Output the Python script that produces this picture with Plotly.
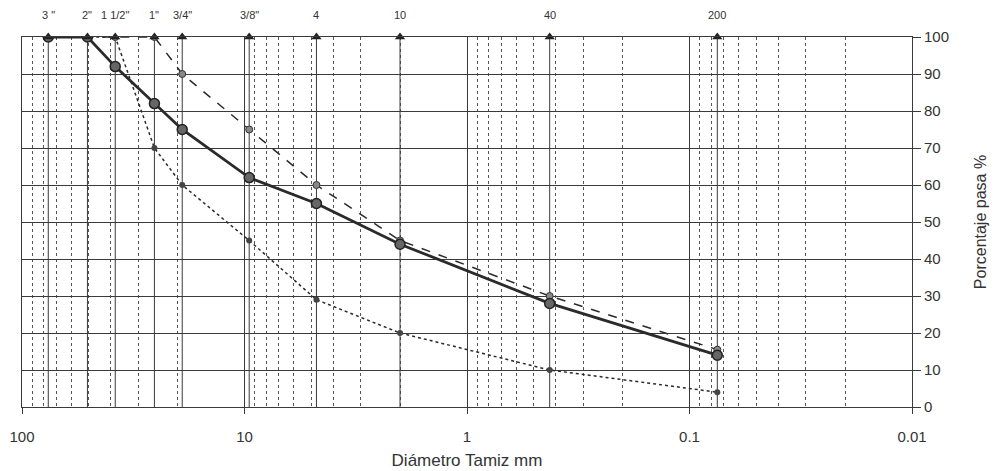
import math
import plotly.graph_objects as go

# Sieve data
sieve_labels = ['3 "', '2"', '1 1/2"', '1"', '3/4"', '3/8"', '4', '10', '40', '200']
sieve_mm = [76.2, 50.8, 38.1, 25.4, 19.05, 9.525, 4.75, 2.0, 0.425, 0.075]

# Percent passing
pasa_muestra = [100, 100, 92, 82, 75, 62, 55, 44, 28, 14]      # solid
pasa_superior = [100, 100, 100, 100, 90, 75, 60, 45, 30, 15.5]  # dashed
pasa_inferior = [100, 100, 100, 70, 60, 45, 29, 20, 10, 4]      # dotted

x_ticks = [100, 10, 1, 0.1, 0.01]
x_tick_text = ["100", "10", "1", "0.1", "0.01"]
y_ticks = list(range(0, 101, 10))

INK = "#2a2a2a"
GRID = "#3a3a3a"
FONT = "Liberation Sans, Arial, sans-serif"

fig = go.Figure()

# sieve vertical lines
for s in sieve_mm:
    fig.add_trace(go.Scatter(x=[s, s], y=[0, 100], mode="lines",
                             line=dict(color=GRID, width=1), hoverinfo="skip",
                             showlegend=False))

# lower limit (dotted)
fig.add_trace(go.Scatter(x=sieve_mm, y=pasa_inferior, mode="lines+markers",
                         line=dict(color=INK, width=1.5, dash="dot"),
                         marker=dict(symbol="circle", size=6, color="#444"),
                         showlegend=False))
# upper limit (dashed)
fig.add_trace(go.Scatter(x=sieve_mm, y=pasa_superior, mode="lines+markers",
                         line=dict(color=INK, width=1.5, dash="dash"),
                         marker=dict(symbol="circle", size=7, color="#888",
                                     line=dict(color="#333", width=1)),
                         showlegend=False))
# sample (solid)
fig.add_trace(go.Scatter(x=sieve_mm, y=pasa_muestra, mode="lines+markers",
                         line=dict(color=INK, width=2.8),
                         marker=dict(symbol="circle", size=10, color="#666",
                                     line=dict(color="#222", width=1.5)),
                         showlegend=False))

# sieve triangles at top
fig.add_trace(go.Scatter(x=sieve_mm, y=[100] * len(sieve_mm), mode="markers",
                         marker=dict(symbol="triangle-up", size=9, color="#222"),
                         cliponaxis=False, showlegend=False))

# sieve labels above plot
for s, lab in zip(sieve_mm, sieve_labels):
    fig.add_annotation(x=math.log10(s), y=1, xref="x", yref="paper",
                       text=lab, showarrow=False, yanchor="bottom",
                       yshift=14, font=dict(family=FONT, size=11, color="#333"))

fig.update_xaxes(type="log", range=[2, -2], automargin=False,
                 tickvals=x_ticks, ticktext=x_tick_text,
                 tickfont=dict(family=FONT, size=15, color="#333"),
                 ticks="outside", ticklen=6, tickcolor=GRID,
                 ticklabelstandoff=10,
                 showgrid=True, gridcolor=GRID, gridwidth=1,
                 minor=dict(dtick="D1", showgrid=True, gridcolor="#555",
                            griddash="dot", gridwidth=1, ticks=""),
                 showline=True, linecolor=GRID, mirror=True, zeroline=False,
                 title=dict(text="Diámetro Tamiz mm",
                            font=dict(family=FONT, size=17, color="#333"),
                            standoff=10))
fig.update_yaxes(range=[0, 100], side="right", tickvals=y_ticks, automargin=False,
                 tickfont=dict(family=FONT, size=15, color="#333"),
                 ticks="outside", ticklen=8, tickcolor=GRID,
                 showgrid=True, gridcolor=GRID, gridwidth=1,
                 showline=True, linecolor=GRID, mirror=True, zeroline=False,
                 title=dict(text="Porcentaje pasa %",
                            font=dict(family=FONT, size=16, color="#333"),
                            standoff=26))

fig.update_layout(width=1000, height=471, plot_bgcolor="white",
                  paper_bgcolor="white",
                  margin=dict(l=14, r=96, t=29, b=72), showlegend=False)

fig.write_html("out.html")
